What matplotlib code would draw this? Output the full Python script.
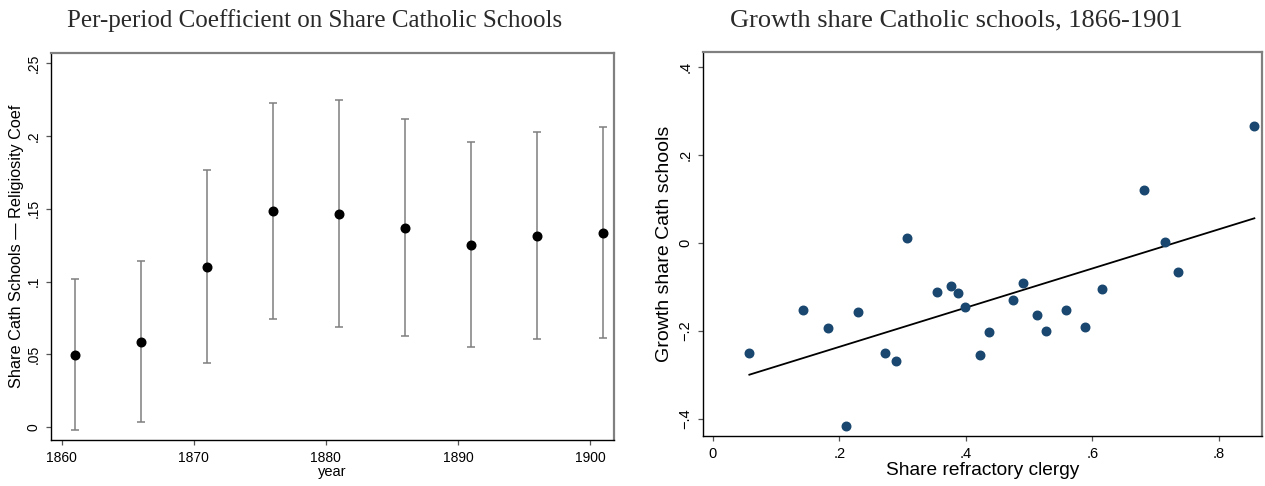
import numpy as np
import matplotlib
matplotlib.use("Agg")
import matplotlib.pyplot as plt

# --- datos panel izquierdo (coeficientes por periodo) ---
years = [1861, 1866, 1871, 1876, 1881, 1886, 1891, 1896, 1901]
coef = [0.0497, 0.0587, 0.110, 0.1483, 0.1467, 0.1370, 0.1253, 0.1313, 0.1334]
ci_hi = [0.1015, 0.1141, 0.1767, 0.2230, 0.2250, 0.2120, 0.1962, 0.2028, 0.2062]
ci_lo = [-0.0018, 0.0034, 0.0438, 0.0742, 0.0685, 0.0626, 0.0548, 0.0603, 0.0610]

# --- datos panel derecho (scatter) ---
refractory = [0.058, 0.142, 0.183, 0.210, 0.230, 0.272, 0.290, 0.307, 0.354,
              0.376, 0.388, 0.398, 0.422, 0.436, 0.474, 0.491, 0.513, 0.527,
              0.559, 0.588, 0.616, 0.681, 0.714, 0.736, 0.856]
growth = [-0.250, -0.153, -0.194, -0.415, -0.156, -0.250, -0.268, 0.012, -0.111,
          -0.098, -0.114, -0.146, -0.254, -0.202, -0.129, -0.090, -0.163, -0.201,
          -0.152, -0.190, -0.105, 0.121, 0.003, -0.066, 0.266]

left_yticks = [0, 0.05, 0.1, 0.15, 0.2, 0.25]
left_ylabels = ["0", ".05", ".1", ".15", ".2", ".25"]
left_xticks = [1860, 1870, 1880, 1890, 1900]
right_xticks = [0, 0.2, 0.4, 0.6, 0.8]
right_xlabels = ["0", ".2", ".4", ".6", ".8"]
right_yticks = [-0.4, -0.2, 0, 0.2, 0.4]
right_ylabels = ["\u2212.4", "\u2212.2", "0", ".2", ".4"]

plt.rcParams['font.family'] = ['Liberation Sans', 'DejaVu Sans']

fig = plt.figure(figsize=(12.65, 4.86), dpi=100)
ax1 = fig.add_axes([0.0403, 0.0947, 0.445, 0.796])
ax2 = fig.add_axes([0.5557, 0.1029, 0.4419, 0.790])


def estilo(ax, fs):
    for s in ['left', 'bottom']:
        ax.spines[s].set_color('black')
        ax.spines[s].set_linewidth(1.0)
    for s in ['top', 'right']:
        ax.spines[s].set_color('#808080')
        ax.spines[s].set_linewidth(1.6)
    ax.tick_params(direction='out', length=3.6, width=0.9, color='#555555',
                   labelsize=fs)
    ax.tick_params(axis='x', pad=4)
    ax.tick_params(axis='y', pad=4)


# ==========================================
# PANEL IZQUIERDO
# ==========================================
c = np.array(coef)
yerr = [c - np.array(ci_lo), np.array(ci_hi) - c]
ax1.errorbar(years, coef, yerr=yerr, fmt='o', color='black', ms=6.2,
             ecolor='#7f7f7f', elinewidth=1.1, capsize=3.0, capthick=1.1)
ax1.set_xlim(1859.19, 1901.8)
ax1.set_ylim(-0.0089, 0.2571)
ax1.set_xticks(left_xticks)
ax1.set_yticks(left_yticks)
ax1.set_yticklabels(left_ylabels, rotation=90, va='center')
ax1.set_xlabel("year", fontsize=10.5, labelpad=0)
ax1.set_ylabel("Share Cath Schools \u2014 Religiosity Coef", fontsize=11.7, labelpad=2)
estilo(ax1, 10)

# ==========================================
# PANEL DERECHO
# ==========================================
ax2.scatter(refractory, growth, s=38, color='#1a476f', zorder=3)
b, a = np.polyfit(refractory, growth, 1)
xs = np.array([min(refractory), max(refractory)])
ax2.plot(xs, a + b * xs, color='black', linewidth=1.3)
ax2.set_xlim(-0.0153, 0.868)
ax2.set_ylim(-0.4387, 0.4346)
ax2.set_xticks(right_xticks)
ax2.set_xticklabels(right_xlabels)
ax2.set_yticks(right_yticks)
ax2.set_yticklabels(right_ylabels, rotation=90, va='center')
ax2.set_xlabel("Share refractory clergy", fontsize=13.8, labelpad=1)
ax2.set_ylabel("Growth share Cath schools", fontsize=14, labelpad=4)
estilo(ax2, 10.5)

fig.text(0.249, 0.957, "Per-period Coefficient on Share Catholic Schools",
         ha='center', va='center', family='Liberation Serif', fontsize=18, color='#2a2a2a')
fig.text(0.756, 0.957, "Growth share Catholic schools, 1866-1901",
         ha='center', va='center', family='Liberation Serif', fontsize=19, color='#2a2a2a')

fig.savefig("out.png", dpi=100)
